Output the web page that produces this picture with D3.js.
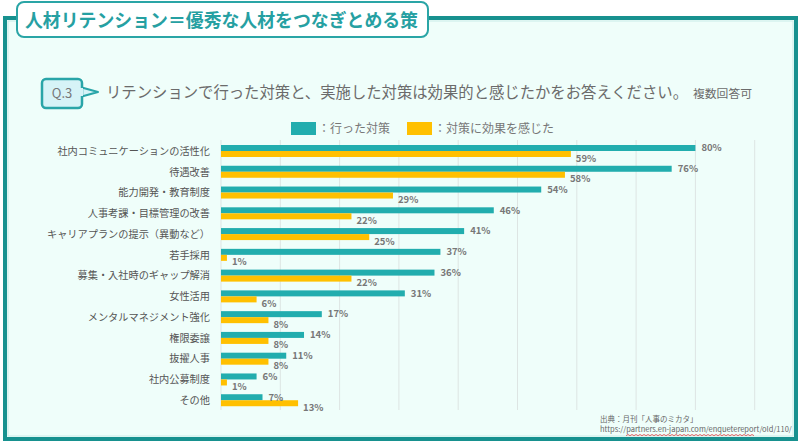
<!DOCTYPE html>
<html><head><meta charset="utf-8">
<script src="https://cdn.jsdelivr.net/npm/d3@7"></script>
<style>html,body{margin:0;padding:0;background:#fff;}svg{display:block;font-family:"Noto Sans CJK JP","Noto Sans",sans-serif;}</style>
</head><body>
<svg id="c" width="800" height="442"></svg>
<script>
const categories = ["社内コミュニケーションの活性化","待遇改善","能力開発・教育制度","人事考課・目標管理の改善","キャリアプランの提示（異動など）","若手採用","募集・入社時のギャップ解消","女性活用","メンタルマネジメント強化","権限委譲","抜擢人事","社内公募制度","その他"];
const doneValues = [80,76,54,46,41,37,36,31,17,14,11,6,7];
const effectValues = [59,58,29,22,25,1,22,6,8,8,8,1,13];
const gridTicks = [0,10,20,30,40,50,60,70,80,90];
const seriesNames = ["：行った対策","：対策に効果を感じた"];
const titleText = "人材リテンション＝優秀な人材をつなぎとめる策";
const questionText = "リテンションで行った対策と、実施した対策は効果的と感じたかをお答えください。";
const noteText = "複数回答可";
const sourceLines = ["出典：月刊「人事のミカタ」","https://partners.en-japan.com/enquetereport/old/110/"];

const teal = "#22adae", yellow = "#ffc000", frameCol = "#17918f";
const svg = d3.select("#c");

// frame
svg.append("rect").attr("x",5).attr("y",18).attr("width",791).attr("height",421)
  .attr("fill","#effefa").attr("stroke",frameCol).attr("stroke-width",4);
svg.append("rect").attr("x",8).attr("y",21).attr("width",785).attr("height",415)
  .attr("fill","none").attr("stroke","#c9ece8").attr("stroke-width",1);

// title box
svg.append("rect").attr("x",17).attr("y",2).attr("width",411).attr("height",35).attr("rx",7)
  .attr("fill","#ffffff").attr("stroke","#2aa5a6").attr("stroke-width",2);
svg.append("text").attr("x",25).attr("y",27).attr("font-size",18.5).attr("font-weight","bold")
  .attr("textLength",393).attr("lengthAdjust","spacingAndGlyphs")
  .attr("fill","#26a0a2").text(titleText);

// Q badge
svg.append("path").attr("d","M80,87 L98,92 L80,97 Z").attr("fill","#d6f3f7").attr("stroke","#29a5a8").attr("stroke-width",2).attr("stroke-linejoin","round");
svg.append("rect").attr("x",42).attr("y",79).attr("width",40).attr("height",29).attr("rx",4)
  .attr("fill","#d6f3f7").attr("stroke","#29a5a8").attr("stroke-width",2.5);
svg.append("rect").attr("x",79).attr("y",88).attr("width",4).attr("height",8).attr("fill","#d6f3f7");
svg.append("text").attr("x",62).attr("y",98).attr("text-anchor","middle").attr("font-size",13)
  .attr("fill","#777").text("Q.3");
svg.append("text").attr("x",106).attr("y",98).attr("fill","#6b6b6b").attr("font-size",15.5)
  .attr("textLength",582).attr("lengthAdjust","spacingAndGlyphs").text(questionText);
svg.append("text").attr("x",693).attr("y",98).attr("fill","#6b6b6b").attr("font-size",11.5)
  .attr("textLength",59).attr("lengthAdjust","spacingAndGlyphs").text(noteText);

// legend
const legX = [291,407];
[teal,yellow].forEach((c,i)=>{
  svg.append("rect").attr("x",legX[i]).attr("y",122).attr("width",25).attr("height",13).attr("fill",c);
  svg.append("text").attr("x",legX[i]+27).attr("y",133).attr("font-size",12).attr("fill","#777").text(seriesNames[i]);
});

// scales
const x = d3.scaleLinear().domain([0,90]).range([221,754.7]);
const y = d3.scaleBand().domain(categories).range([142,412]).paddingInner(0).paddingOuter(0);
const bh = 6;

// grid
svg.append("g").selectAll("line").data(gridTicks).join("line")
  .attr("x1",d=>x(d)).attr("x2",d=>x(d)).attr("y1",140).attr("y2",410)
  .attr("stroke","#dde5e3").attr("stroke-width",1);

const rowTop = c => y(c) + 3;

// bars
const g = svg.append("g");
g.selectAll("rect.done").data(categories).join("rect").attr("class","done")
  .attr("x",x(0)).attr("y",c=>rowTop(c)).attr("width",(c,i)=>x(doneValues[i])-x(0)).attr("height",bh)
  .attr("fill",teal);
g.selectAll("rect.eff").data(categories).join("rect").attr("class","eff")
  .attr("x",x(0)).attr("y",c=>rowTop(c)+bh).attr("width",(c,i)=>x(effectValues[i])-x(0)).attr("height",bh)
  .attr("fill",yellow);

// value labels
g.selectAll("text.dl").data(categories).join("text").attr("class","dl")
  .attr("x",(c,i)=>x(doneValues[i])+6).attr("y",c=>rowTop(c)+bh/2+3.3)
  .attr("font-size",9.5).attr("font-weight","bold").attr("fill","#777")
  .text((c,i)=>doneValues[i]+"%");
g.selectAll("text.el").data(categories).join("text").attr("class","el")
  .attr("x",(c,i)=>x(effectValues[i])+5).attr("y",c=>rowTop(c)+bh*1.5+7.5)
  .attr("font-size",9.5).attr("font-weight","bold").attr("fill","#777")
  .text((c,i)=>effectValues[i]+"%");

// category labels
g.selectAll("text.cat").data(categories).join("text").attr("class","cat")
  .attr("x",210).attr("y",c=>rowTop(c)+bh+3.8).attr("text-anchor","end")
  .attr("font-size",10.2).attr("fill","#555").text(c=>c);

// source
svg.append("text").attr("x",600).attr("y",422).attr("font-size",7.5).attr("fill","#666").text(sourceLines[0]);
svg.append("text").attr("x",600).attr("y",432).attr("font-size",7.5).attr("fill","#666").text(sourceLines[1]);
// spellcheck squiggle
const sq = [];
for (let xx=626; xx<=755; xx+=2) sq.push([xx, 434.5 + ((xx/2)%2===0?0:1.2)]);
svg.append("path").attr("d",d3.line()(sq)).attr("fill","none").attr("stroke","#e04040").attr("stroke-width",0.8);
</script>
</body></html>
